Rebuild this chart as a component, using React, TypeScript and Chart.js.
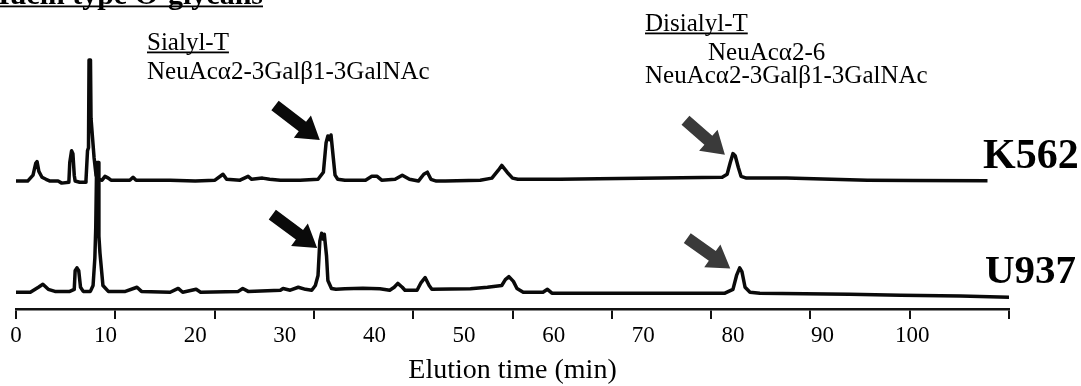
import React, { useEffect, useRef } from 'react';
import { Chart, registerables } from 'chart.js';

Chart.register(...registerables);

// ---- data ----
const xTickLabels = [0, 10, 20, 30, 40, 50, 60, 70, 80, 90, 100];
const X_MAX = 110.8; // end of the drawn time axis (min)

// K562 trace: elution time (min) and detector signal (arbitrary units, relative to its baseline)
const k562Time = [
  0, 1.3, 1.9, 2.2, 2.35, 2.55, 2.9, 3.35, 3.8, 4.7, 5.1, 5.9, 6.0, 6.2, 6.35, 6.5, 6.6, 7.1, 7.7,
  7.81, 7.98, 8.09, 8.15, 8.31, 8.37, 8.54, 8.71, 8.93, 9.15, 9.6, 9.93, 10.3, 10.6, 12.7, 13.06,
  13.4, 17.2, 20, 22.2, 23.1, 23.5, 25, 25.9, 26.3, 27.5, 28.3, 29.5, 31.7, 33.7, 34.3, 34.6, 34.8,
  35.0, 35.15, 35.4, 35.6, 35.9, 36.7, 39, 39.7, 40.3, 40.8, 42.3, 43.1, 43.9, 44.9, 45.5, 45.9,
  46.3, 46.9, 47.9, 51.8, 53.1, 53.8, 54.2, 54.8, 55.4, 56, 58.5, 60.7, 65, 72, 78.8, 79.35, 79.7,
  80.0, 80.25, 80.6, 80.9, 81.5, 86, 95, 100, 108.4,
];
const k562Signal = [
  -0.3, -0.3, 1.7, 5.7, 6.3, 3, 1, 0.3, -0.3, -0.3, -1, -0.7, 6, 10, 9, 1.7, -0.3, -0.7, -0.7,
  0, 10, 11, 40.7, 40.7, 21, 14.3, 7.7, 1.7, 0.3, 0, 1.3, 0.7, 0, 0, 1,
  0, 0, -0.3, 0, 2, 0.3, 0, 1.3, 0.3, 0.7, 0.3, 0, 0, 0.3, 2.7, 12.7, 15,
  13.7, 15.3, 7.7, 1.7, 0.3, 0, 0, 1.3, 1.3, 0, 0.3, 1.7, 0.3, -0.3, 2, 2.7,
  0.3, -0.3, -0.3, 0, 0.7, 3.3, 5, 2.7, 0.7, 0.3, 0.3, 0.3, 0.5, 0.7, 1, 2, 6,
  9, 8.3, 4.3, 1.3, 0.7, 0.7, 0, -0.1, -0.2,
];

// U937 trace
const u937Time = [
  0, 1.6, 2.5, 3.0, 3.6, 4.35, 6.0, 6.5, 6.6, 6.8, 7.0, 7.2, 7.5, 8.3, 8.6, 8.8, 8.9, 9.0, 9.2,
  9.25, 9.37, 9.7, 10.3, 12.2, 13.5, 14, 17.2, 18.1, 18.6, 20.1, 20.6, 24.8, 25.3, 25.9, 29.5,
  29.8, 30.6, 31.5, 32.3, 33.0, 33.4, 33.7, 33.9, 34.1, 34.3, 34.4, 34.65, 34.8, 35.2, 35.7, 36.7,
  38.7, 40.6, 41.7, 42.2, 42.6, 43.1, 43.4, 44.75, 45.2, 45.65, 46.1, 46.4, 50.7, 52.6, 54.2, 54.6,
  55.0, 55.5, 55.9, 56.6, 58.8, 59.3, 59.8, 70, 79.1, 80.0, 80.4, 80.75, 81.0, 81.35, 81.9, 83, 93,
  98.7, 105.4, 110.8,
];
const u937Signal = [
  0, 0, 1.7, 2.7, 1, 0.3, 0.3, 1, 7.3, 8.3, 7.3, 1.7, 0.3, 0.3, 2.3, 11.7, 22, 44, 44,
  19, 13.3, 2.3, 0.3, 0.3, 1.7, 0.3, 0, 1.3, 0, 1, 0, 0.3, 1.3, 0.3, 0.7,
  1.3, 0.7, 1.7, 1, 0.7, 2.3, 5.7, 17.3, 20, 18, 19.7, 12.3, 4, 1.3, 1, 1.2,
  1.4, 1.2, 0.7, 1.7, 3, 1.7, 0.7, 0.7, 3.3, 5, 2.3, 1, 1.2, 1.7, 2.3, 4.3,
  5.3, 3.7, 1.3, 0, 0, 1, -0.3, -0.3, -0.3, 1, 5.7, 8.3, 7, 1.7, 0, -0.3, -0.7,
  -1, -1.3, -1.7,
];

// vertical offsets of the two stacked traces (y-axis units)
const K562_BASE = 43.67;
const U937_BASE = 5.67;

// arrows: [time, y] of tail and tip
const arrows = [
  { tail: [28.9, 69], tip: [33.9, 57.3], color: '#0a0a0a' },
  { tail: [28.6, 32], tip: [33.6, 20.7], color: '#0a0a0a' },
  { tail: [74.7, 64], tip: [79.1, 52.3], color: '#3a3a3a' },
  { tail: [74.9, 24], tip: [79.7, 13.7], color: '#3a3a3a' },
];

const SERIF = '"Liberation Serif", "Times New Roman", serif';
const TRACE = '#0a0a0a';

function drawArrow(ctx: CanvasRenderingContext2D, x1: number, y1: number, x2: number, y2: number, color: string) {
  const ang = Math.atan2(y2 - y1, x2 - x1);
  const len = Math.hypot(x2 - x1, y2 - y1);
  const hw = 6, hl = 22, hh = 14;
  ctx.save();
  ctx.translate(x1, y1);
  ctx.rotate(ang);
  ctx.fillStyle = color;
  ctx.beginPath();
  ctx.moveTo(0, -hw);
  ctx.lineTo(len - hl, -hw);
  ctx.lineTo(len - hl, -hh);
  ctx.lineTo(len, 0);
  ctx.lineTo(len - hl, hh);
  ctx.lineTo(len - hl, hw);
  ctx.lineTo(0, hw);
  ctx.closePath();
  ctx.fill();
  ctx.restore();
}

function text(ctx: CanvasRenderingContext2D, s: string, x: number, y: number, font: string, align: CanvasTextAlign = 'left', underline = false) {
  ctx.font = font;
  ctx.textAlign = align;
  ctx.textBaseline = 'alphabetic';
  ctx.fillStyle = '#000';
  ctx.fillText(s, x, y);
  if (underline) {
    const w = ctx.measureText(s).width;
    const x0 = align === 'right' ? x - w : x;
    ctx.fillRect(x0, y + 1.5, w, 1.8);
  }
}

const annotationPlugin = {
  id: 'annotations',
  afterDraw(chart: any) {
    const { ctx, scales } = chart;
    const xs = scales.x, ys = scales.y;
    ctx.save();
    arrows.forEach((a) =>
      drawArrow(ctx, xs.getPixelForValue(a.tail[0]), ys.getPixelForValue(a.tail[1]), xs.getPixelForValue(a.tip[0]), ys.getPixelForValue(a.tip[1]), a.color)
    );
    text(ctx, 'Mucin type O-glycans', 263, 4, `bold 30px ${SERIF}`, 'right', true);
    text(ctx, 'Sialyl-T', 147, 50, `25px ${SERIF}`, 'left', true);
    text(ctx, 'NeuAcα2-3Galβ1-3GalNAc', 147, 79, `25px ${SERIF}`);
    text(ctx, 'Disialyl-T', 645, 31, `25px ${SERIF}`, 'left', true);
    text(ctx, 'NeuAcα2-6', 708, 60, `25px ${SERIF}`);
    text(ctx, 'NeuAcα2-3Galβ1-3GalNAc', 645, 83, `25px ${SERIF}`);
    text(ctx, 'K562', 983, 168, `bold 42px ${SERIF}`);
    text(ctx, 'U937', 985, 283, `bold 41px ${SERIF}`);
    ctx.restore();
  },
};

export default function App() {
  const ref = useRef<HTMLCanvasElement>(null);
  useEffect(() => {
    const chart = new Chart(ref.current as HTMLCanvasElement, {
      type: 'line',
      data: {
        datasets: [
          {
            label: 'K562',
            data: k562Time.map((t, i) => ({ x: t, y: k562Signal[i] + K562_BASE })),
            xAxisID: 'x',
            yAxisID: 'y',
            borderColor: TRACE,
            borderWidth: 3.5,
            pointRadius: 0,
            tension: 0,
            fill: false,
            borderJoinStyle: 'round',
          },
          {
            label: 'U937',
            data: u937Time.map((t, i) => ({ x: t, y: u937Signal[i] + U937_BASE })),
            xAxisID: 'x',
            yAxisID: 'y',
            borderColor: TRACE,
            borderWidth: 3.5,
            pointRadius: 0,
            tension: 0,
            fill: false,
            borderJoinStyle: 'round',
          },
        ],
      },
      options: {
        animation: false,
        responsive: false,
        layout: { padding: { left: 16, right: 72, top: 14, bottom: 0 } },
        plugins: { legend: { display: false }, tooltip: { enabled: false }, title: { display: false } },
        scales: {
          y: { type: 'linear', display: false, min: 0, max: 100 },
          xTicks: {
            type: 'linear',
            position: 'bottom',
            weight: 0,
            min: 0,
            max: 10,
            ticks: { display: false, stepSize: 1 },
            grid: { display: true, drawOnChartArea: false, drawTicks: true, tickLength: 10, color: '#111', lineWidth: 2 },
            border: { display: true, color: '#111', width: 2.5 },
          },
          x: {
            type: 'linear',
            position: 'bottom',
            weight: 1,
            min: 0,
            max: X_MAX,
            afterBuildTicks: (s: any) => {
              s.ticks = xTickLabels.map((v) => ({ value: v }));
            },
            ticks: {
              padding: 5,
              color: '#000',
              maxRotation: 0,
              autoSkip: false,
              font: { family: SERIF, size: 23, lineHeight: 1 },
            },
            grid: { display: false, drawTicks: false },
            border: { display: false },
            title: {
              display: true,
              text: 'Elution time (min)',
              color: '#000',
              font: { family: SERIF, size: 28, lineHeight: 1 },
              padding: { top: 4.5, bottom: 1.5 },
            },
          },
        },
      } as any,
      plugins: [annotationPlugin],
    });
    return () => chart.destroy();
  }, []);
  return (
    <div style={{ position: 'fixed', left: 0, top: 0, width: 1081, height: 386, background: '#fff' }}>
      <canvas ref={ref} width={1081} height={386} style={{ display: 'block' }} />
    </div>
  );
}
